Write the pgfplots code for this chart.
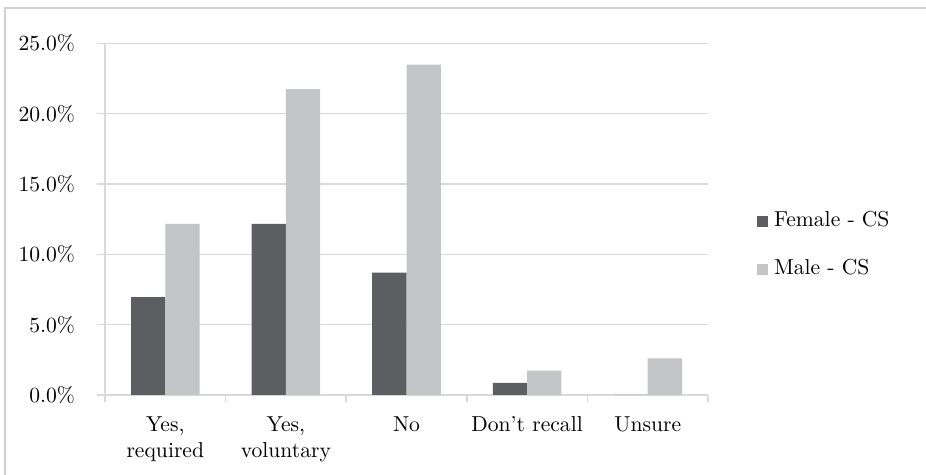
\documentclass[border=0pt]{standalone}
\usepackage{pgfplots}
\pgfplotsset{compat=1.18}
\definecolor{femalecol}{HTML}{5D5E62}
\definecolor{malecol}{HTML}{C4C5C7}
\definecolor{gridcol}{HTML}{D9D9D9}
\definecolor{framecol}{HTML}{D0D0D0}

% share of respondents (%), n = 115
\pgfplotstableread{
x female male
0 6.96 12.17
1 12.17 21.74
2 8.70 23.48
3 0.87 1.74
4 0.00 2.61
}\datatable

\begin{document}
\begin{tikzpicture}[font=\fontsize{10.8}{13}\selectfont]
\path[use as bounding box] (0pt,0pt) rectangle (463pt,-237.5pt);
\draw[framecol, line width=0.75pt] (2.4pt,-245pt) -- (2.4pt,-3.9pt) -- (470pt,-3.9pt);
\begin{axis}[
    at={(52.5pt,-197.5pt)}, anchor=south west,
    scale only axis,
    width=301.5pt, height=175.85pt,
    ybar=0pt, bar width=17.15pt,
    xmin=-0.5, xmax=4.5,
    ymin=0, ymax=25,
    ytick={0,5,...,25},
    xtick={0,1,2,3,4},
    xticklabels={{Yes,\\required},{Yes,\\voluntary},No,Don’t recall,Unsure},
    xticklabel style={align=center, font=\fontsize{10.8}{13}\selectfont, yshift=-3.3pt},
    yticklabel={\pgfmathprintnumber[fixed,fixed zerofill,precision=1]{\tick}\%},
    yticklabel style={xshift=-7.5pt, font=\fontsize{10.8}{13}\selectfont},
    /pgf/number format/assume math mode=true,
    axis x line*=bottom, axis y line*=left,
    axis line style={draw=gridcol, line width=0.75pt},
    ymajorgrids, major grid style={draw=gridcol, line width=0.75pt},
    tick align=outside,
    major tick length=4pt,
    ytick style={draw=gridcol, line width=0.75pt},
    xtick style={draw=none},
    extra x ticks={-0.5,0.5,1.5,2.5,3.5,4.5},
    extra x tick labels={},
    extra x tick style={grid=none, major tick length=3.5pt,
        xtick style={draw=gridcol, line width=0.75pt}},
    legend style={draw=none, fill=none, at={(1.0813,0.425)}, anchor=west,
        inner sep=0pt, row sep=13pt,
        nodes={inner sep=1pt, text height=7pt, text depth=2pt,
            font=\fontsize{10.8}{13}\selectfont}},
    legend cell align=left,
    legend image code/.code={\fill[#1] (0pt,-2.7pt) rectangle (5.4pt,2.7pt); \path (7.3pt,0pt);},
]
\addplot[fill=femalecol, draw=none] table[x=x, y=female] {\datatable};
\addplot[fill=malecol, draw=none] table[x=x, y=male] {\datatable};
\legend{Female - CS, Male - CS}
\end{axis}
\end{tikzpicture}
\end{document}
